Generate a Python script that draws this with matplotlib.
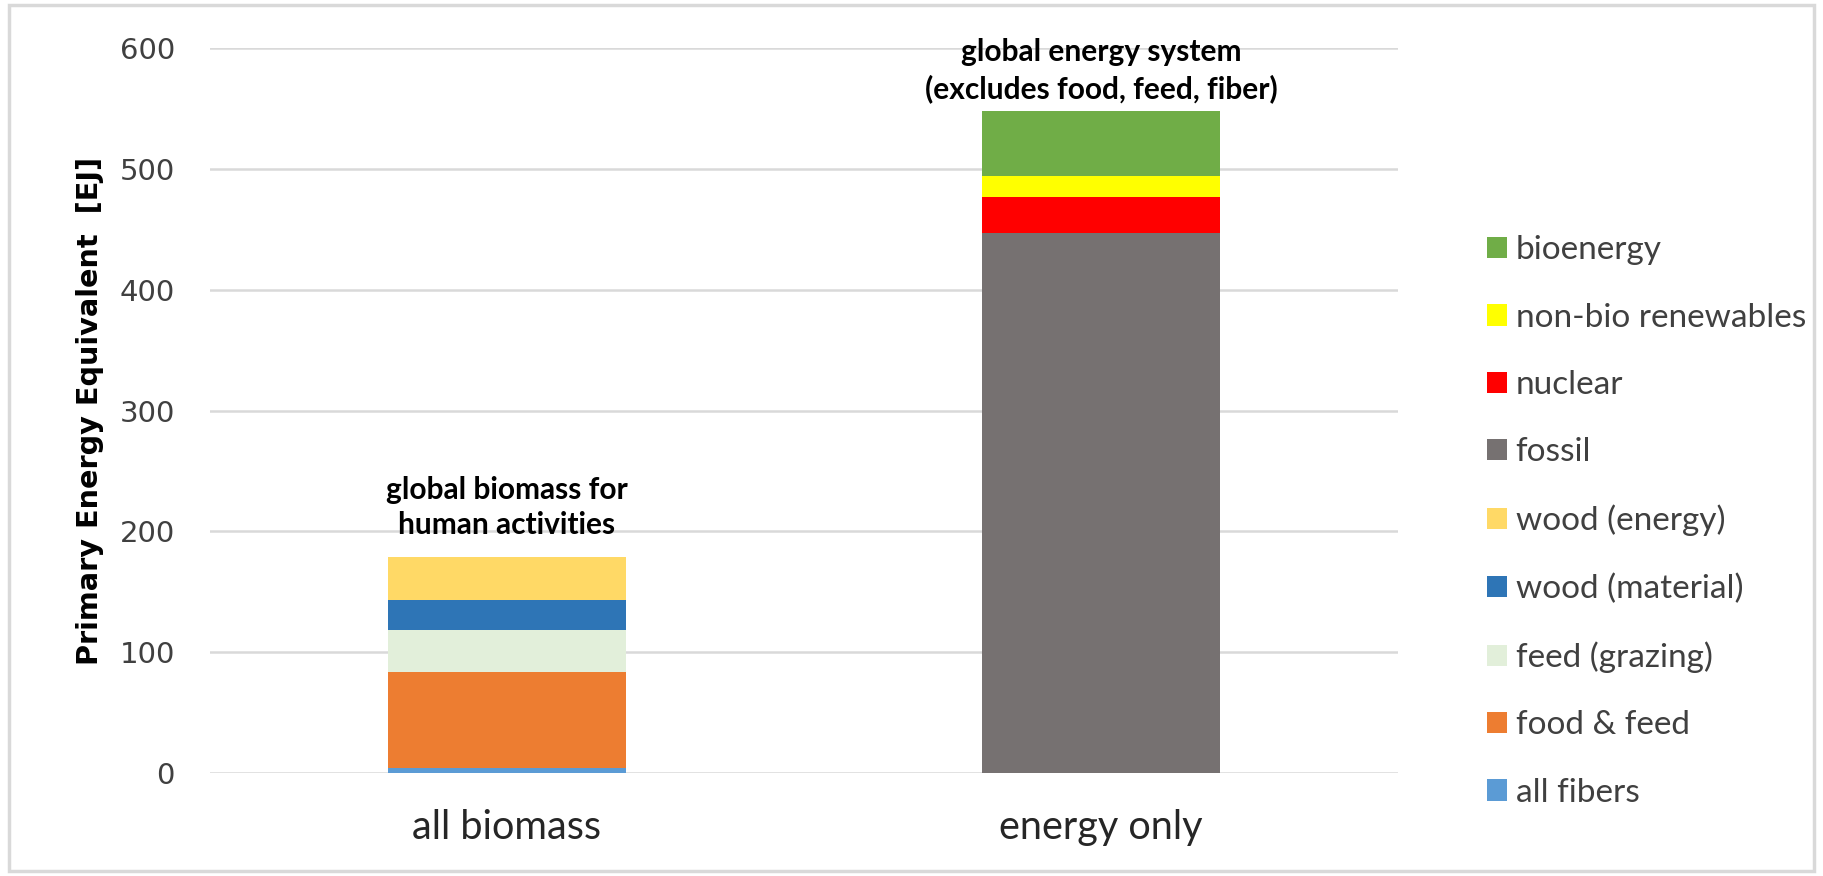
import matplotlib.pyplot as plt
from matplotlib.patches import Rectangle

plt.rcParams['font.family'] = ['Lato', 'DejaVu Sans']

# Data
categories = ['all biomass', 'energy only']
series = ['all fibers', 'food & feed', 'feed (grazing)', 'wood (material)', 'wood (energy)',
          'fossil', 'nuclear', 'non-bio renewables', 'bioenergy']
values = {
    'all fibers':         [4, 0],
    'food & feed':        [79.5, 0],
    'feed (grazing)':     [35, 0],
    'wood (material)':    [25, 0],
    'wood (energy)':      [35, 0],
    'fossil':             [0, 447],
    'nuclear':            [0, 29.5],
    'non-bio renewables': [0, 18],
    'bioenergy':          [0, 53.5],
}
colors = {
    'all fibers': '#5b9bd5',
    'food & feed': '#ed7d31',
    'feed (grazing)': '#e2efda',
    'wood (material)': '#2e75b6',
    'wood (energy)': '#ffd966',
    'fossil': '#767171',
    'nuclear': '#ff0000',
    'non-bio renewables': '#ffff00',
    'bioenergy': '#70ad47',
}
bar_notes = ['global biomass for\nhuman activities',
             'global energy system\n(excludes food, feed, fiber)']

fig = plt.figure(figsize=(18.23, 8.76), dpi=100)
fig.patches.append(Rectangle((0.005, 0.006), 0.99, 0.988, transform=fig.transFigure,
                             fill=False, edgecolor='#d9d9d9', linewidth=2.5))
ax = fig.add_axes([0.115, 0.1175, 0.652, 0.8275])

x = range(len(categories))
bottoms = [0.0] * len(categories)
for name in series:
    vals = values[name]
    ax.bar(x, vals, width=0.4, bottom=bottoms, color=colors[name], label=name, zorder=3)
    bottoms = [b + v for b, v in zip(bottoms, vals)]

offsets = [13, 6]
for i, note in enumerate(bar_notes):
    ax.annotate(note, xy=(i, bottoms[i]), xytext=(0, offsets[i]), textcoords='offset points',
                ha='center', va='bottom', fontsize=21.5, fontweight='bold',
                linespacing=1.34, color='black')

ax.set_xlim(-0.5, 1.5)
ax.set_ylim(0, 600)
ax.set_yticks(range(0, 601, 100))
ax.set_xticks(list(x))
ax.set_xticklabels(categories, fontsize=28.5, color='#262626')
ax.tick_params(axis='y', labelsize=21, colors='#404040', length=0, pad=25)
ax.tick_params(axis='x', length=0, pad=26)
for lbl in ax.get_yticklabels():
    lbl.set_family(['DejaVu Sans'])
ax.grid(axis='y', color='#d9d9d9', linewidth=1.8, zorder=0)
for s in ax.spines.values():
    s.set_visible(False)
ax.set_ylabel('Primary Energy Equivalent  [EJ]', fontsize=20.7, fontweight='bold',
              family=['DejaVu Sans'], labelpad=11)

handles, labels = ax.get_legend_handles_labels()
leg = ax.legend(handles[::-1], labels[::-1], loc='center left', bbox_to_anchor=(1.075, 0.347),
                frameon=False, fontsize=24, handlelength=0.6, handleheight=0.6,
                handletextpad=0.25, labelspacing=1.12, borderpad=0, borderaxespad=0)
for t in leg.get_texts():
    t.set_color('#404040')

fig.savefig('out.png', dpi=100)
